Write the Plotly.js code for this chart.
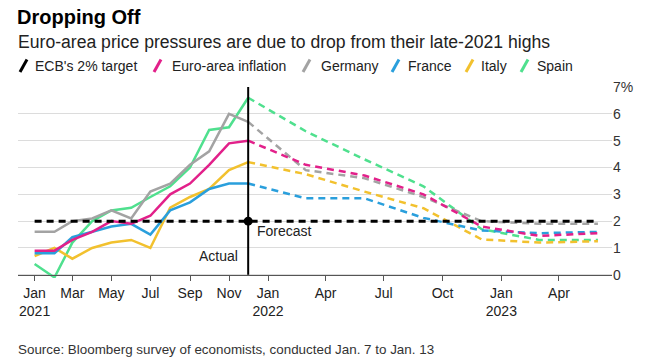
<!DOCTYPE html>
<html>
<head>
<meta charset="utf-8">
<script src="https://cdn.plot.ly/plotly-3.0.1.min.js"></script>
<style>
  html, body { margin: 0; padding: 0; background: #fff; }
  #chart { width: 654px; height: 363px; }
</style>
</head>
<body>
<div id="chart"></div>
<script>
// ---------- DATA ----------
const actualMonths = ['2021-01-01','2021-02-01','2021-03-01','2021-04-01','2021-05-01','2021-06-01',
                      '2021-07-01','2021-08-01','2021-09-01','2021-10-01','2021-11-01','2021-12-01'];
const forecastMonths = ['2021-12-01','2022-03-01','2022-06-01','2022-09-01','2022-12-01','2023-03-01','2023-06-01'];

const euroActual    = [0.9, 0.9, 1.3, 1.6, 2.0, 1.9, 2.2, 3.0, 3.4, 4.1, 4.9, 5.0];
const germanyActual = [1.6, 1.6, 2.0, 2.1, 2.4, 2.1, 3.1, 3.4, 4.1, 4.6, 6.0, 5.7];
const franceActual  = [0.8, 0.8, 1.4, 1.6, 1.8, 1.9, 1.5, 2.4, 2.7, 3.2, 3.4, 3.4];
const italyActual   = [0.7, 1.0, 0.6, 1.0, 1.2, 1.3, 1.0, 2.5, 2.9, 3.2, 3.9, 4.2];
const spainActual   = [0.4, -0.1, 1.2, 2.0, 2.4, 2.5, 2.9, 3.3, 4.0, 5.4, 5.5, 6.6];

const euroForecast    = [5.0, 4.1, 3.7, 3.0, 1.8, 1.45, 1.55];
const germanyForecast = [5.7, 3.9, 3.6, 2.9, 2.0, 1.9, 1.9];
const franceForecast  = [3.4, 2.85, 2.85, 2.12, 1.65, 1.55, 1.6];
const italyForecast   = [4.2, 3.75, 3.1, 2.48, 1.32, 1.2, 1.25];
const spainForecast   = [6.6, 5.35, 4.3, 3.3, 1.7, 1.3, 1.3];

const ecbTargetDates = ['2021-01-01','2023-06-01'];
const ecbTarget = [2, 2];
const splitDate = '2021-12-01';

const seriesNames = ["ECB's 2% target", 'Euro-area inflation', 'Germany', 'France', 'Italy', 'Spain'];

const xTickVals = ['2021-01-01','2021-03-01','2021-05-01','2021-07-01','2021-09-01','2021-11-01',
                   '2022-01-01','2022-04-01','2022-07-01','2022-10-01','2023-01-01','2023-04-01'];
const xTickText = ['Jan<br>2021','Mar','May','Jul','Sep','Nov','Jan<br>2022','Apr','Jul','Oct','Jan<br>2023','Apr'];
const yTickVals = [0,1,2,3,4,5,6,7];
const yTickText = ['0','1','2','3','4','5','6','7%'];

// ---------- STYLE ----------
const colors = {
  ecb: '#000000', euro: '#e2208a', germany: '#a3a3a3',
  france: '#2a9fdc', italy: '#f2c12e', spain: '#4fe08e'
};
const FONT = 'Liberation Sans, Arial, Helvetica, sans-serif';
const W = 654, H = 363, ML = 18, MR = 42, MT = 87, MB = 85;
const xp = px => (px - ML) / (W - ML - MR);
const yp = py => (H - MB - py) / (H - MT - MB);
const DASH = '7px,5px';
const LW = 2.5;

function pair(name, color, act, fc) {
  return [
    { x: actualMonths, y: act, type: 'scatter', mode: 'lines', name: name,
      line: { color: color, width: LW }, showlegend: false, hoverinfo: 'skip' },
    { x: forecastMonths, y: fc, type: 'scatter', mode: 'lines', name: name + ' forecast',
      line: { color: color, width: LW, dash: DASH }, showlegend: false, hoverinfo: 'skip' }
  ];
}

const traces = [].concat(
  pair(seriesNames[5], colors.spain, spainActual, spainForecast),
  pair(seriesNames[4], colors.italy, italyActual, italyForecast),
  pair(seriesNames[3], colors.france, franceActual, franceForecast),
  pair(seriesNames[2], colors.germany, germanyActual, germanyForecast),
  pair(seriesNames[1], colors.euro, euroActual, euroForecast),
  [{ x: ecbTargetDates, y: ecbTarget, type: 'scatter', mode: 'lines', name: seriesNames[0],
     line: { color: colors.ecb, width: 3, dash: '7px,5px' }, showlegend: false, hoverinfo: 'skip' },
   { x: [splitDate], y: [ecbTarget[0]], type: 'scatter', mode: 'markers', showlegend: false,
     marker: { color: '#000', size: 9 }, hoverinfo: 'skip', cliponaxis: false }]
);

// ---------- LEGEND (slash + text) ----------
const legendColors = [colors.ecb, colors.euro, colors.germany, colors.france, colors.italy, colors.spain];
const slashX = [20, 154, 303, 392, 466, 521];
const textX  = [33, 170, 319, 406, 479, 535];

const shapes = [
  { type: 'line', xref: 'x', yref: 'y', x0: splitDate, x1: splitDate, y0: 0, y1: 7,
    line: { color: '#000', width: 2 }, layer: 'above' }
];
const annotations = [];
seriesNames.forEach((n, i) => {
  shapes.push({ type: 'line', xref: 'paper', yref: 'paper',
    x0: xp(slashX[i]), y0: yp(72), x1: xp(slashX[i] + 7), y1: yp(59.5),
    line: { color: legendColors[i], width: 3 } });
  annotations.push({ xref: 'paper', yref: 'paper', x: xp(textX[i]), y: yp(66),
    xanchor: 'left', yanchor: 'middle', showarrow: false, text: n,
    font: { family: FONT, size: 14, color: '#222' } });
});

annotations.push(
  { xref: 'paper', yref: 'paper', x: xp(16), y: yp(42), xanchor: 'left', yanchor: 'middle',
    showarrow: false, text: 'Euro-area price pressures are due to drop from their late-2021 highs',
    font: { family: FONT, size: 17.6, color: '#222' } },
  { xref: 'paper', yref: 'paper', x: xp(16), y: yp(349), xanchor: 'left', yanchor: 'middle',
    showarrow: false, text: 'Source: Bloomberg survey of economists, conducted Jan. 7 to Jan. 13',
    font: { family: FONT, size: 13.4, color: '#333' } },
  { xref: 'x', yref: 'y', x: splitDate, y: 1.62, xanchor: 'left', yanchor: 'middle', xshift: 7,
    showarrow: false, text: 'Forecast', font: { family: FONT, size: 14, color: '#222' } },
  { xref: 'x', yref: 'y', x: splitDate, y: 0.7, xanchor: 'right', yanchor: 'middle', xshift: -8,
    showarrow: false, text: 'Actual', font: { family: FONT, size: 14, color: '#222' } }
);

const layout = {
  width: W, height: H,
  margin: { l: ML, r: MR, t: MT, b: MB, pad: 0 },
  paper_bgcolor: '#fff', plot_bgcolor: '#fff',
  showlegend: false,
  title: { text: '<b>Dropping Off</b>', xref: 'container', yref: 'container',
           x: 17 / W, xanchor: 'left', y: 1 - 17 / H, yanchor: 'middle',
           font: { family: FONT, size: 20, color: '#000' } },
  xaxis: {
    type: 'date', range: ['2020-12-06', '2023-06-23'],
    anchor: 'free', position: 0.12 / 7.12,
    tickmode: 'array', tickvals: xTickVals, ticktext: xTickText,
    showgrid: false, zeroline: false,
    showline: true, linecolor: '#555', linewidth: 1,
    ticks: 'outside', ticklen: 5, tickcolor: '#555', tickwidth: 1,
    tickfont: { family: FONT, size: 14, color: '#222' }
  },
  yaxis: {
    range: [-0.12, 7], side: 'right', anchor: 'x',
    tickmode: 'array', tickvals: yTickVals, ticktext: yTickText,
    showgrid: true, gridcolor: '#dcdcdc', gridwidth: 1,
    zeroline: false, showline: false, ticks: '',
    tickfont: { family: FONT, size: 14, color: '#333' }
  },
  shapes: shapes,
  annotations: annotations
};

Plotly.newPlot('chart', traces, layout, { staticPlot: true, displayModeBar: false });
</script>
</body>
</html>
